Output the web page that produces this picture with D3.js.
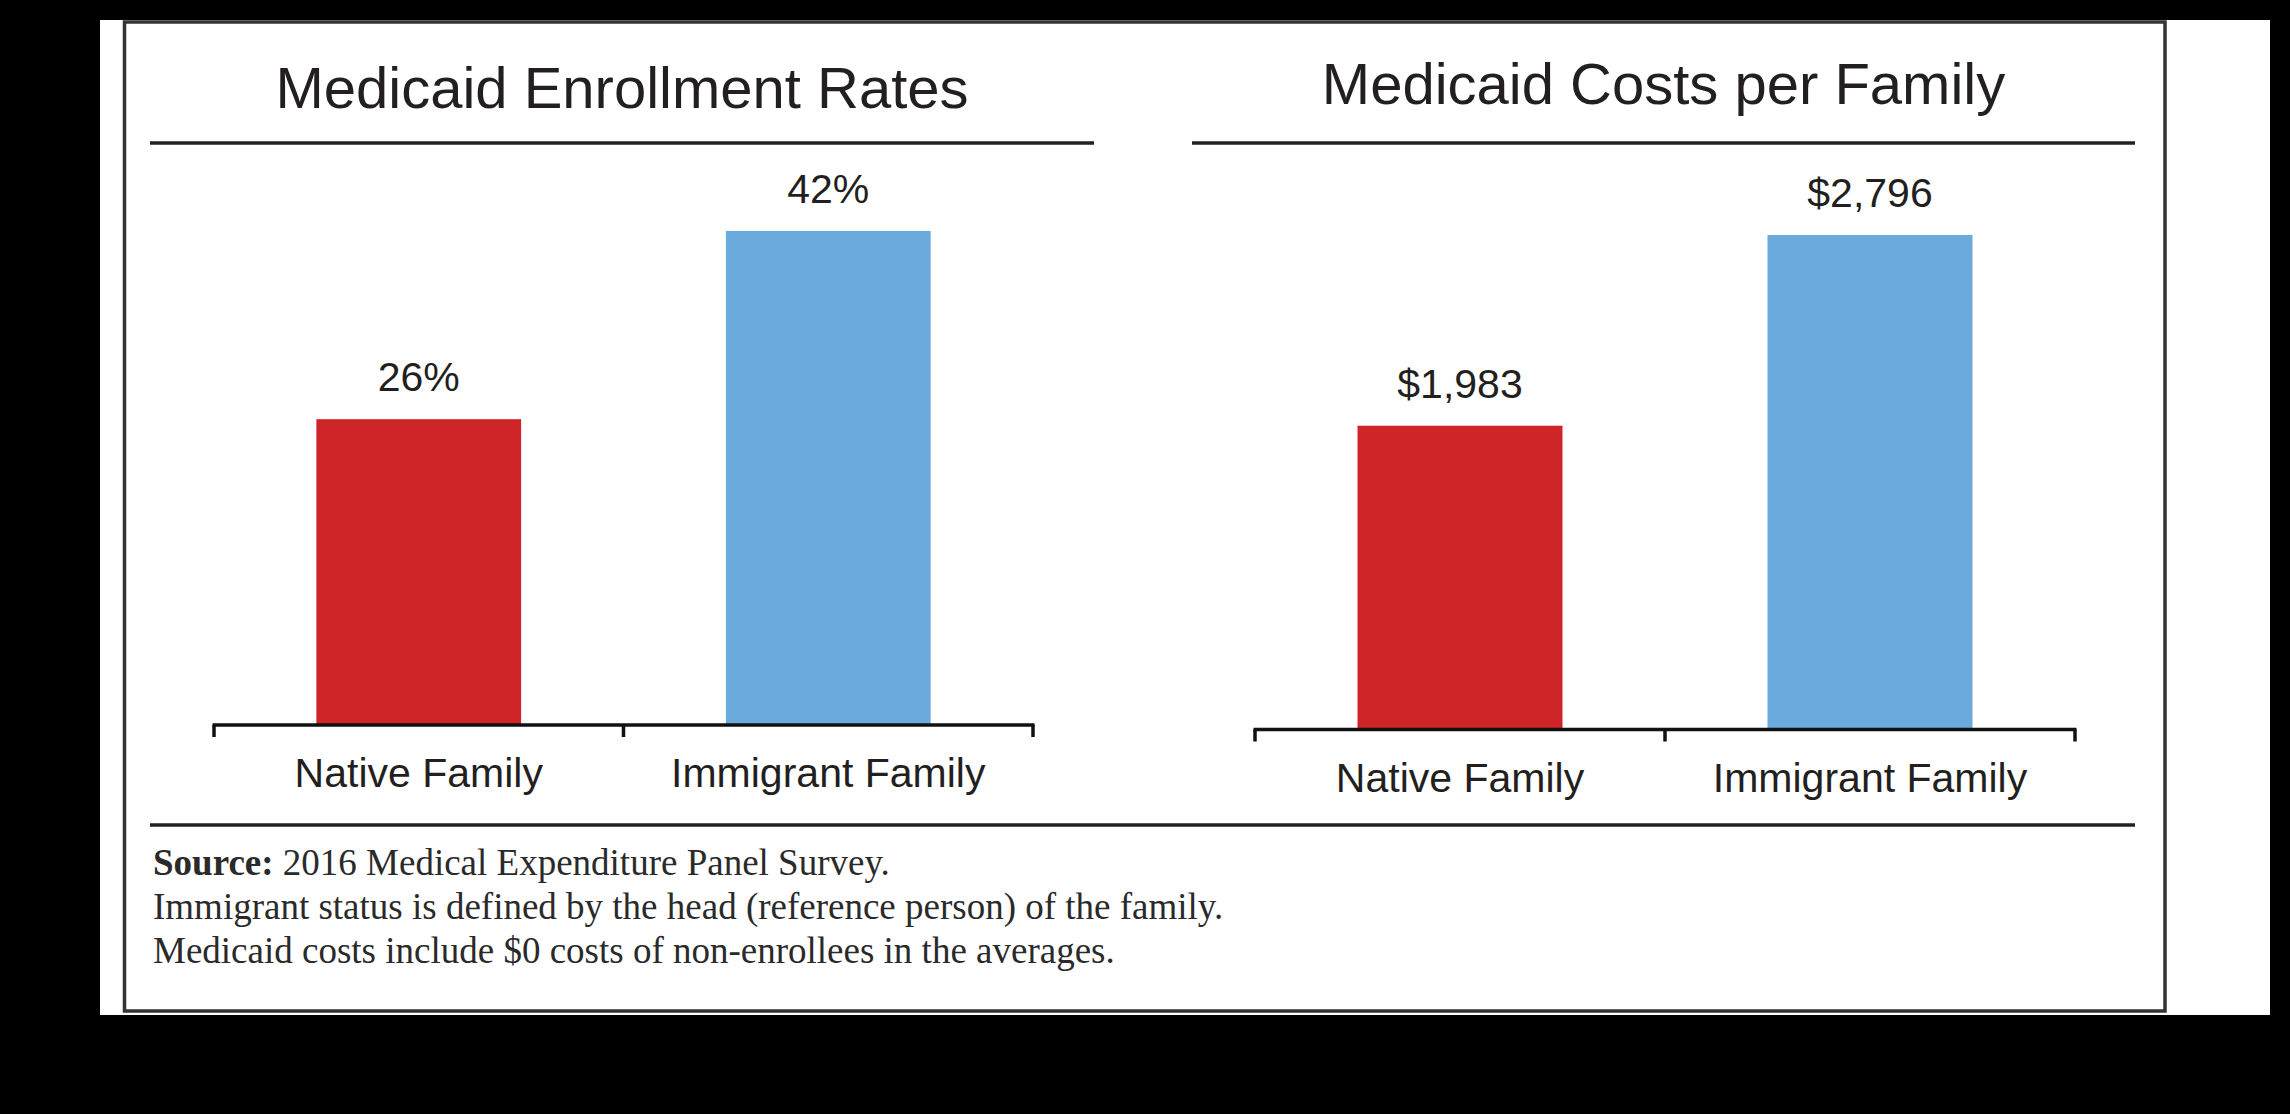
<!DOCTYPE html>
<html>
<head>
<meta charset="utf-8">
<script src="https://cdn.jsdelivr.net/npm/d3@7"></script>
<style>
  html, body { margin: 0; padding: 0; background: #000; }
  svg { display: block; }
</style>
</head>
<body>
<svg id="chart" width="2290" height="1114"></svg>
<script>
// ---- data ----
const categories = ["Native Family", "Immigrant Family"];
const enrollmentRates = [26, 42];
const enrollmentLabels = ["26%", "42%"];
const costsPerFamily = [1983, 2796];
const costLabels = ["$1,983", "$2,796"];
const panelTitles = ["Medicaid Enrollment Rates", "Medicaid Costs per Family"];
const barColors = ["#cf2428", "#6baadc"];
const footnoteSource = "2016 Medical Expenditure Panel Survey.";
const footnoteLines = [
  "Immigrant status is defined by the head (reference person) of the family.",
  "Medicaid costs include $0 costs of non-enrollees in the averages."
];

// ---- layout ----
const svg = d3.select("#chart");
const sans = "'Liberation Sans', Arial, Helvetica, sans-serif";
const serif = "'Liberation Serif', 'Times New Roman', serif";
const ink = "#231f20";

// white sheet + frame
svg.append("rect").attr("x", 100).attr("y", 20).attr("width", 2170).attr("height", 995).attr("fill", "#fff");
svg.append("rect").attr("x", 124.5).attr("y", 22).attr("width", 2040.5).attr("height", 989)
  .attr("fill", "none").attr("stroke", "#333").attr("stroke-width", 3.5);

const panels = [
  { title: panelTitles[0], values: enrollmentRates, labels: enrollmentLabels,
    titleY: 108, rule: [150, 1094], axisRange: [214, 1033], baseY: 725, topY: 231,
    yDomain: [0, 42] },
  { title: panelTitles[1], values: costsPerFamily, labels: costLabels,
    titleY: 104, rule: [1192, 2135], axisRange: [1255, 2075], baseY: 729.5, topY: 235,
    yDomain: [688, 2796] }
];

panels.forEach(p => {
  const g = svg.append("g");
  const cx = (p.rule[0] + p.rule[1]) / 2;

  // title + rule
  g.append("text").attr("x", cx).attr("y", p.titleY)
    .attr("text-anchor", "middle").attr("font-family", sans).attr("font-size", 58)
    .attr("fill", ink).text(p.title);
  g.append("line").attr("x1", p.rule[0]).attr("x2", p.rule[1])
    .attr("y1", 143).attr("y2", 143).attr("stroke", "#222").attr("stroke-width", 3.5);

  const x = d3.scaleBand().domain(categories).range(p.axisRange).paddingInner(0).paddingOuter(0);
  const y = d3.scaleLinear().domain(p.yDomain).range([p.baseY, p.topY]);
  const bw = x.bandwidth() * 0.5;

  const data = categories.map((c, i) => ({ c, v: p.values[i], label: p.labels[i], color: barColors[i] }));

  g.selectAll("rect.bar").data(data).enter().append("rect")
    .attr("class", "bar")
    .attr("x", d => x(d.c) + (x.bandwidth() - bw) / 2)
    .attr("width", bw)
    .attr("y", d => y(d.v))
    .attr("height", d => p.baseY - y(d.v))
    .attr("fill", d => d.color);

  g.selectAll("text.val").data(data).enter().append("text")
    .attr("class", "val")
    .attr("x", d => x(d.c) + x.bandwidth() / 2)
    .attr("y", d => y(d.v) - 28)
    .attr("text-anchor", "middle").attr("font-family", sans).attr("font-size", 41)
    .attr("fill", ink).text(d => d.label);

  // bracket axis: line with ticks at band boundaries
  const bounds = categories.map(c => x(c)).concat([x(categories[categories.length - 1]) + x.bandwidth()]);
  const tickLen = 12;
  g.append("line").attr("x1", bounds[0] - 1.5).attr("x2", bounds[bounds.length - 1] + 1.5)
    .attr("y1", p.baseY).attr("y2", p.baseY).attr("stroke", "#111").attr("stroke-width", 3.5);
  g.selectAll("line.tick").data(bounds).enter().append("line")
    .attr("class", "tick")
    .attr("x1", d => d).attr("x2", d => d)
    .attr("y1", p.baseY).attr("y2", p.baseY + tickLen)
    .attr("stroke", "#111").attr("stroke-width", 3.5);

  g.selectAll("text.cat").data(data).enter().append("text")
    .attr("class", "cat")
    .attr("x", d => x(d.c) + x.bandwidth() / 2)
    .attr("y", p.baseY + 62)
    .attr("text-anchor", "middle").attr("font-family", sans).attr("font-size", 41)
    .attr("fill", ink).text(d => d.c);
});

// footer rule
svg.append("line").attr("x1", 150).attr("x2", 2135).attr("y1", 825).attr("y2", 825)
  .attr("stroke", "#222").attr("stroke-width", 3.5);

// footnotes
const fn = svg.append("text").attr("x", 153).attr("y", 875)
  .attr("font-family", serif).attr("font-size", 37).attr("fill", "#2a2a2a");
fn.append("tspan").attr("font-weight", "bold").text("Source:");
fn.append("tspan").text(" " + footnoteSource);
footnoteLines.forEach((t, i) => {
  svg.append("text").attr("x", 153).attr("y", 919 + i * 44)
    .attr("font-family", serif).attr("font-size", 37).attr("fill", "#2a2a2a").text(t);
});
</script>
</body>
</html>
